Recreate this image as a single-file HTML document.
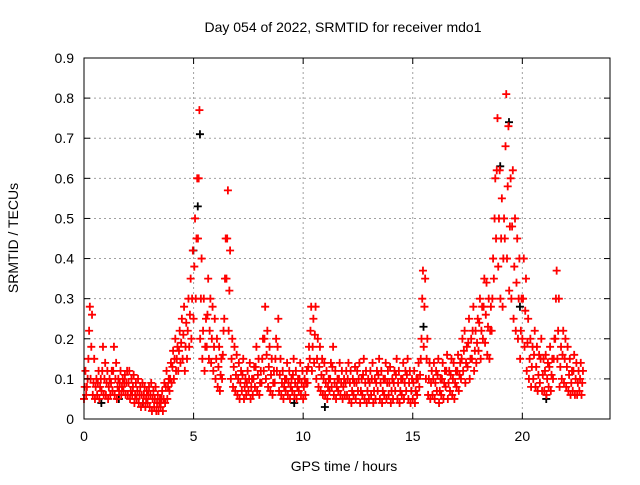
<!DOCTYPE html>
<html><head><meta charset="utf-8"><style>
body{margin:0;background:#fff;font-family:"Liberation Sans",sans-serif}
</style></head><body>
<svg id="chart" width="640" height="480" xmlns="http://www.w3.org/2000/svg" font-family="Liberation Sans, sans-serif" font-size="14">
<rect width="640" height="480" fill="#fff"/>
<text x="343" y="32" text-anchor="middle" font-size="14">Day 054 of 2022, SRMTID for receiver mdo1</text>
<text x="344" y="471" text-anchor="middle">GPS time / hours</text>
<text transform="translate(18,238) rotate(-90)" text-anchor="middle">SRMTID / TECUs</text>
<g id="grid"></g><g id="marks"></g><g id="axes"></g>
</svg>
<script>
const xTicks=[0,5,10,15,20];
const yTicks=[0,0.1,0.2,0.3,0.4,0.5,0.6,0.7,0.8,0.9];
const yTickLabels=["0","0.1","0.2","0.3","0.4","0.5","0.6","0.7","0.8","0.9"];
const timeStep=0.1;
const hiVals=[.12,.10,.28,.26,.15,.10,.12,.10,.18,.14,
.12,.10,.12,.18,.14,.10,.12,.10,.11,.12,
.12,.10,.11,.09,.10,.08,.09,.08,.07,.08,
.09,.07,.08,.06,.05,.07,.09,.12,.10,.14,
.17,.20,.18,.22,.25,.28,.24,.30,.35,.42,
.50,.60,.77,.40,.30,.25,.35,.30,.28,.25,
.20,.18,.15,.22,.45,.57,.42,.20,.18,.16,
.14,.12,.15,.10,.12,.14,.10,.13,.18,.15,
.12,.20,.28,.22,.18,.15,.12,.20,.25,.15,
.12,.10,.14,.12,.10,.15,.12,.10,.14,.12,
.10,.12,.18,.28,.25,.28,.20,.18,.15,.14,
.12,.10,.14,.18,.12,.10,.14,.12,.10,.12,
.14,.12,.10,.13,.12,.14,.10,.15,.12,.10,
.12,.14,.10,.12,.15,.12,.10,.14,.12,.13,
.10,.12,.15,.12,.10,.14,.12,.15,.12,.10,
.12,.10,.14,.15,.37,.35,.20,.14,.12,.14,
.12,.15,.10,.14,.12,.16,.12,.15,.14,.12,
.16,.14,.20,.22,.18,.25,.20,.28,.22,.25,
.30,.28,.35,.34,.30,.28,.40,.60,.75,.62,
.55,.50,.81,.73,.60,.62,.50,.45,.40,.30,
.40,.35,.25,.20,.18,.22,.18,.16,.20,.15,
.16,.14,.18,.15,.20,.37,.30,.18,.22,.20,
.18,.15,.12,.16,.14,.12,.14,.12];
const midVals=[.08,.08,.22,.18,.09,.08,.09,.08,.12,.10,
.09,.08,.09,.12,.10,.08,.09,.08,.09,.09,
.09,.07,.08,.06,.07,.06,.06,.06,.05,.06,
.06,.05,.05,.04,.04,.05,.05,.08,.08,.10,
.13,.15,.15,.17,.19,.21,.18,.22,.26,.30,
.38,.45,.60,.30,.22,.18,.26,.22,.20,.18,
.15,.13,.11,.16,.35,.45,.32,.15,.13,.11,
.10,.09,.11,.08,.09,.10,.08,.10,.13,.11,
.09,.15,.20,.16,.13,.11,.09,.15,.18,.11,
.09,.08,.10,.09,.08,.11,.09,.08,.10,.09,
.08,.09,.13,.22,.18,.21,.15,.13,.11,.10,
.09,.08,.10,.13,.09,.08,.10,.09,.08,.09,
.10,.09,.07,.09,.09,.10,.07,.11,.09,.07,
.09,.10,.07,.09,.11,.09,.07,.10,.09,.09,
.07,.09,.11,.09,.07,.10,.09,.11,.09,.07,
.09,.07,.10,.11,.30,.28,.15,.10,.09,.10,
.09,.11,.07,.10,.09,.12,.09,.11,.10,.09,
.12,.11,.15,.17,.14,.19,.15,.22,.17,.19,
.24,.22,.28,.26,.23,.22,.30,.50,.62,.50,
.45,.40,.68,.58,.48,.48,.38,.34,.30,.22,
.30,.27,.19,.15,.13,.16,.13,.11,.15,.11,
.12,.10,.13,.11,.15,.30,.22,.13,.16,.15,
.13,.11,.09,.12,.10,.09,.10,.09];
const loVals=[.05,.06,.15,.10,.06,.05,.06,.05,.07,.06,
.06,.05,.06,.07,.06,.05,.07,.06,.07,.06,
.06,.05,.06,.04,.05,.04,.03,.04,.03,.04,
.03,.02,.03,.02,.02,.03,.02,.04,.05,.07,
.09,.10,.12,.12,.14,.15,.12,.15,.18,.20,
.25,.30,.45,.20,.15,.12,.18,.15,.14,.12,
.10,.08,.07,.10,.25,.35,.22,.10,.08,.07,
.06,.05,.07,.05,.06,.07,.05,.06,.08,.07,
.06,.09,.12,.10,.08,.07,.06,.09,.12,.07,
.06,.05,.07,.06,.05,.07,.06,.05,.07,.06,
.05,.06,.09,.15,.12,.14,.10,.08,.07,.06,
.06,.05,.07,.08,.06,.05,.07,.06,.05,.06,
.06,.05,.04,.06,.05,.07,.04,.06,.05,.04,
.05,.06,.04,.05,.07,.05,.04,.06,.05,.06,
.04,.05,.07,.05,.04,.06,.05,.07,.05,.04,
.05,.04,.06,.08,.20,.18,.10,.06,.05,.06,
.05,.07,.04,.06,.05,.08,.05,.07,.06,.05,
.08,.07,.10,.12,.09,.13,.10,.15,.12,.14,
.17,.15,.20,.19,.16,.15,.22,.35,.45,.38,
.30,.28,.45,.40,.32,.30,.25,.22,.20,.15,
.20,.18,.12,.10,.08,.10,.08,.07,.09,.07,
.07,.06,.08,.07,.10,.20,.15,.08,.10,.09,
.08,.07,.06,.07,.06,.06,.07,.06];
const blackTimes=[0.7,1.5,2.6,4.9,5.1,5.2,9.5,10.9,15.4,18.9,19.3,19.8,21.0];
const blackVals=[0.04,0.05,0.04,0.42,0.53,0.71,0.04,0.03,0.23,0.63,0.74,0.28,0.05];

const NS="http://www.w3.org/2000/svg";
const X0=84,X1=610,Y0=419,Y1=58;
const xMax=24,yMax=0.9;
const sx=v=>X0+v/xMax*(X1-X0);
const sy=v=>Y0-v/yMax*(Y0-Y1);
function mk(tag,attrs,parent){const e=document.createElementNS(NS,tag);for(const k in attrs)e.setAttribute(k,attrs[k]);parent.appendChild(e);return e;}
const grid=document.getElementById('grid'),axes=document.getElementById('axes'),marks=document.getElementById('marks');
xTicks.forEach(t=>{
  const x=sx(t);
  if(t>0){const g=mk('line',{x1:x,x2:x,y1:Y0,y2:Y1,stroke:'#a0a0a0','stroke-dasharray':'2,3'},grid);
  
  }
  mk('line',{x1:x,x2:x,y1:Y0,y2:Y0-6,stroke:'#000'},axes);
  mk('line',{x1:x,x2:x,y1:Y1,y2:Y1+6,stroke:'#000'},axes);
  const l=mk('text',{x:x,y:Y0+22,'text-anchor':'middle'},axes);l.textContent=t;
  
  
});
yTicks.forEach((t,i)=>{
  const y=sy(t);
  if(i>0&&i<yTicks.length-1){const g=mk('line',{x1:X0,x2:X1,y1:y,y2:y,stroke:'#a0a0a0','stroke-dasharray':'2,3'},grid);
  
  }
  mk('line',{x1:X0,x2:X0+6,y1:y,y2:y,stroke:'#000'},axes);
  mk('line',{x1:X1,x2:X1-6,y1:y,y2:y,stroke:'#000'},axes);
  const l=mk('text',{x:X0-10,y:y+5,'text-anchor':'end'},axes);l.textContent=yTickLabels[i];
  
  
});
const fr=mk('rect',{x:X0,y:Y1,width:X1-X0,height:Y0-Y1,fill:'none',stroke:'#000'},axes);


function plus(x,y,c){const p=mk('path',{d:`M${x-4},${y}h8M${x},${y-4}v8`,stroke:c,'stroke-width':1.8,fill:'none'},marks);return p;}
blackTimes.forEach((t,i)=>{const p=plus(sx(t)+2,sy(blackVals[i]),'#000');
  
  });
[loVals,midVals,hiVals].forEach((arr,k)=>{
  arr.forEach((v,i)=>{const t=i*timeStep+k*0.033;
    const p=plus(sx(t),sy(v),'#ff0000');
    
    });
});
</script>
</body></html>
